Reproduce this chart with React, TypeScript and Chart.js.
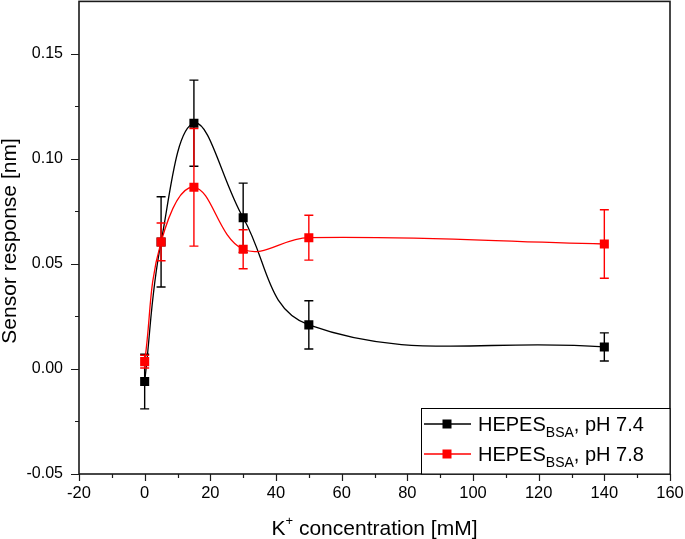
import React, { useEffect, useRef } from 'react';
import { Chart, registerables } from 'chart.js';

Chart.register(...registerables);

const FONT = '"Liberation Sans", Arial, Helvetica, sans-serif';
const SHIFT = 5;

const concentrations = [0, 5, 15, 30, 50, 140];
const responsePH74 = [-0.006, 0.0605, 0.117, 0.072, 0.021, 0.0105];
const errorPH74 = [0.013, 0.0215, 0.0205, 0.0165, 0.0115, 0.0067];
const responsePH78 = [0.0035, 0.0605, 0.0865, 0.057, 0.0625, 0.0595];
const errorPH78 = [0.003, 0.009, 0.028, 0.0093, 0.0107, 0.0163];

const xTicks = [-20, 0, 20, 40, 60, 80, 100, 120, 140, 160];
const xMinorTicks = [-10, 10, 30, 50, 70, 90, 110, 130, 150];
const yTicks = [-0.05, 0, 0.05, 0.1, 0.15];
const yMinorTicks = [-0.025, 0.025, 0.075, 0.125];

const legendMain = ['HEPES', 'HEPES'];
const legendSub = ['BSA', 'BSA'];
const legendTail = [', pH 7.4', ', pH 7.8'];
const seriesColors = ['#000000', '#ff0000'];

const xTitleMain = 'K';
const xTitleSup = '+';
const xTitleTail = ' concentration [mM]';
const yTitle = 'Sensor response [nm]';

const errors = [errorPH74, errorPH78];

const errorBarPlugin = {
  id: 'errorBars',
  beforeDatasetDraw(chart: any, args: any) {
    const { ctx, scales } = chart;
    const ds = chart.data.datasets[args.index];
    const err = errors[ds.seriesIndex];
    const color = seriesColors[ds.seriesIndex];
    ctx.save();
    ctx.strokeStyle = color;
    ctx.lineWidth = 1.4;
    ds.data.forEach((p: any, i: number) => {
      const px = scales.x.getPixelForValue(p.x);
      const yTop = scales.y.getPixelForValue(p.y + err[i]);
      const yBot = scales.y.getPixelForValue(p.y - err[i]);
      ctx.beginPath();
      ctx.moveTo(px, yTop);
      ctx.lineTo(px, yBot);
      ctx.moveTo(px - 4.5, yTop);
      ctx.lineTo(px + 4.5, yTop);
      ctx.moveTo(px - 4.5, yBot);
      ctx.lineTo(px + 4.5, yBot);
      ctx.stroke();
    });
    ctx.restore();
  },
};

const framePlugin = {
  id: 'frame',
  afterDraw(chart: any) {
    const { ctx, chartArea, scales } = chart;
    const { left, right, top, bottom } = chartArea;
    ctx.save();
    ctx.strokeStyle = '#1a1a1a';
    ctx.lineWidth = 1.6;
    ctx.strokeRect(left, top, right - left, bottom - top);
    ctx.lineWidth = 1.2;
    ctx.beginPath();
    xTicks.forEach((v) => {
      const px = Math.round(scales.x.getPixelForValue(v)) + 0.5;
      ctx.moveTo(px, bottom);
      ctx.lineTo(px, bottom + 7);
    });
    xMinorTicks.forEach((v) => {
      const px = Math.round(scales.x.getPixelForValue(v)) + 0.5;
      ctx.moveTo(px, bottom);
      ctx.lineTo(px, bottom + 4);
    });
    yTicks.forEach((v) => {
      const py = Math.round(scales.y.getPixelForValue(v)) + 0.5;
      ctx.moveTo(left, py);
      ctx.lineTo(left - 8, py);
    });
    yMinorTicks.forEach((v) => {
      const py = Math.round(scales.y.getPixelForValue(v)) + 0.5;
      ctx.moveTo(left, py);
      ctx.lineTo(left - 4, py);
    });
    ctx.stroke();

    // axis titles
    ctx.fillStyle = '#000';
    ctx.textBaseline = 'alphabetic';
    const xMainFont = `21px ${FONT}`;
    const xSupFont = `13px ${FONT}`;
    ctx.font = xMainFont;
    const wMain = ctx.measureText(xTitleMain).width;
    const wTail = ctx.measureText(xTitleTail).width;
    ctx.font = xSupFont;
    const wSup = ctx.measureText(xTitleSup).width;
    const totalW = wMain + wSup + wTail;
    const cx = (left + right) / 2;
    let tx = cx - totalW / 2;
    const ty = 535 + SHIFT;
    ctx.font = xMainFont;
    ctx.fillText(xTitleMain, tx, ty);
    tx += wMain;
    ctx.font = xSupFont;
    ctx.fillText(xTitleSup, tx, ty - 10);
    tx += wSup;
    ctx.font = xMainFont;
    ctx.fillText(xTitleTail, tx, ty);

    ctx.save();
    ctx.translate(16, 241 + SHIFT);
    ctx.rotate(-Math.PI / 2);
    ctx.font = `21px ${FONT}`;
    ctx.textAlign = 'center';
    ctx.fillText(yTitle, 0, 0);
    ctx.restore();

    // legend
    const bx = 421.5;
    const by = 408.5 + SHIFT;
    const bw = right - bx;
    const bh = bottom - by;
    ctx.fillStyle = '#fff';
    ctx.fillRect(bx, by, bw, bh);
    ctx.strokeStyle = '#000';
    ctx.lineWidth = 1;
    ctx.strokeRect(bx, by, bw, bh);
    const rows = [424 + SHIFT, 454 + SHIFT];
    rows.forEach((ry, i) => {
      ctx.strokeStyle = seriesColors[i];
      ctx.lineWidth = 1.3;
      ctx.beginPath();
      ctx.moveTo(424, ry);
      ctx.lineTo(471, ry);
      ctx.stroke();
      ctx.fillStyle = seriesColors[i];
      ctx.fillRect(447 - 4.5, ry - 4.5, 9, 9);
      ctx.fillStyle = '#000';
      let lx = 478;
      const base = ry + 7;
      ctx.font = `20px ${FONT}`;
      ctx.fillText(legendMain[i], lx, base);
      lx += ctx.measureText(legendMain[i]).width;
      ctx.font = `14px ${FONT}`;
      ctx.fillText(legendSub[i], lx, base + 6);
      lx += ctx.measureText(legendSub[i]).width;
      ctx.font = `20px ${FONT}`;
      ctx.fillText(legendTail[i], lx, base);
    });
    ctx.restore();
  },
};

export default function App() {
  const canvasRef = useRef<HTMLCanvasElement | null>(null);

  useEffect(() => {
    if (!canvasRef.current) return;
    const mk = (ys: number[]) => concentrations.map((x, i) => ({ x, y: ys[i] }));
    const chart = new Chart(canvasRef.current, {
      type: 'line',
      data: {
        datasets: [
          {
            label: 'HEPES BSA, pH 7.4',
            data: mk(responsePH74),
            borderColor: seriesColors[0],
            backgroundColor: seriesColors[0],
            borderWidth: 1.3,
            pointStyle: 'rect',
            pointRadius: 6.4,
            pointBorderWidth: 0,
            tension: 0.4,
            order: 1,
            seriesIndex: 0,
          } as any,
          {
            label: 'HEPES BSA, pH 7.8',
            data: mk(responsePH78),
            borderColor: seriesColors[1],
            backgroundColor: seriesColors[1],
            borderWidth: 1.3,
            pointStyle: 'rect',
            pointRadius: 6.4,
            pointBorderWidth: 0,
            tension: 0.4,
            order: 0,
            seriesIndex: 1,
          } as any,
        ],
      },
      options: {
        animation: false,
        responsive: true,
        maintainAspectRatio: false,
        layout: { padding: { top: 1, right: 15, left: 0, bottom: 0 } },
        plugins: { legend: { display: false }, tooltip: { enabled: false } },
        scales: {
          x: {
            type: 'linear',
            min: -20,
            max: 160,
            afterBuildTicks: (s: any) => {
              s.ticks = xTicks.map((v) => ({ value: v }));
            },
            afterFit: (s: any) => {
              s.height = 65;
              s.paddingLeft = 0;
              s.paddingRight = 0;
            },
            ticks: {
              font: { family: FONT, size: 16.5 },
              color: '#000',
              padding: 3,
              maxRotation: 0,
              autoSkip: false,
            },
            grid: { display: true, drawOnChartArea: false, drawTicks: true, tickLength: 7, color: 'rgba(0,0,0,0)' },
            border: { display: false },
          },
          y: {
            type: 'linear',
            min: -0.05,
            max: 0.175,
            afterBuildTicks: (s: any) => {
              s.ticks = yTicks.map((v) => ({ value: v }));
            },
            afterFit: (s: any) => {
              s.width = 79;
              s.paddingTop = 0;
              s.paddingBottom = 0;
            },
            ticks: {
              font: { family: FONT, size: 16 },
              color: '#000',
              padding: 8,
              callback: (v: any) => Number(v).toFixed(2),
            },
            grid: { display: true, drawOnChartArea: false, drawTicks: true, tickLength: 8, color: 'rgba(0,0,0,0)' },
            border: { display: false },
          },
        },
      },
      plugins: [errorBarPlugin, framePlugin],
    });
    return () => chart.destroy();
  }, []);

  return (
    <div style={{ position: 'fixed', left: 0, top: -SHIFT, width: 685, height: 539 + SHIFT, background: '#fff' }}>
      <canvas ref={canvasRef} />
    </div>
  );
}
